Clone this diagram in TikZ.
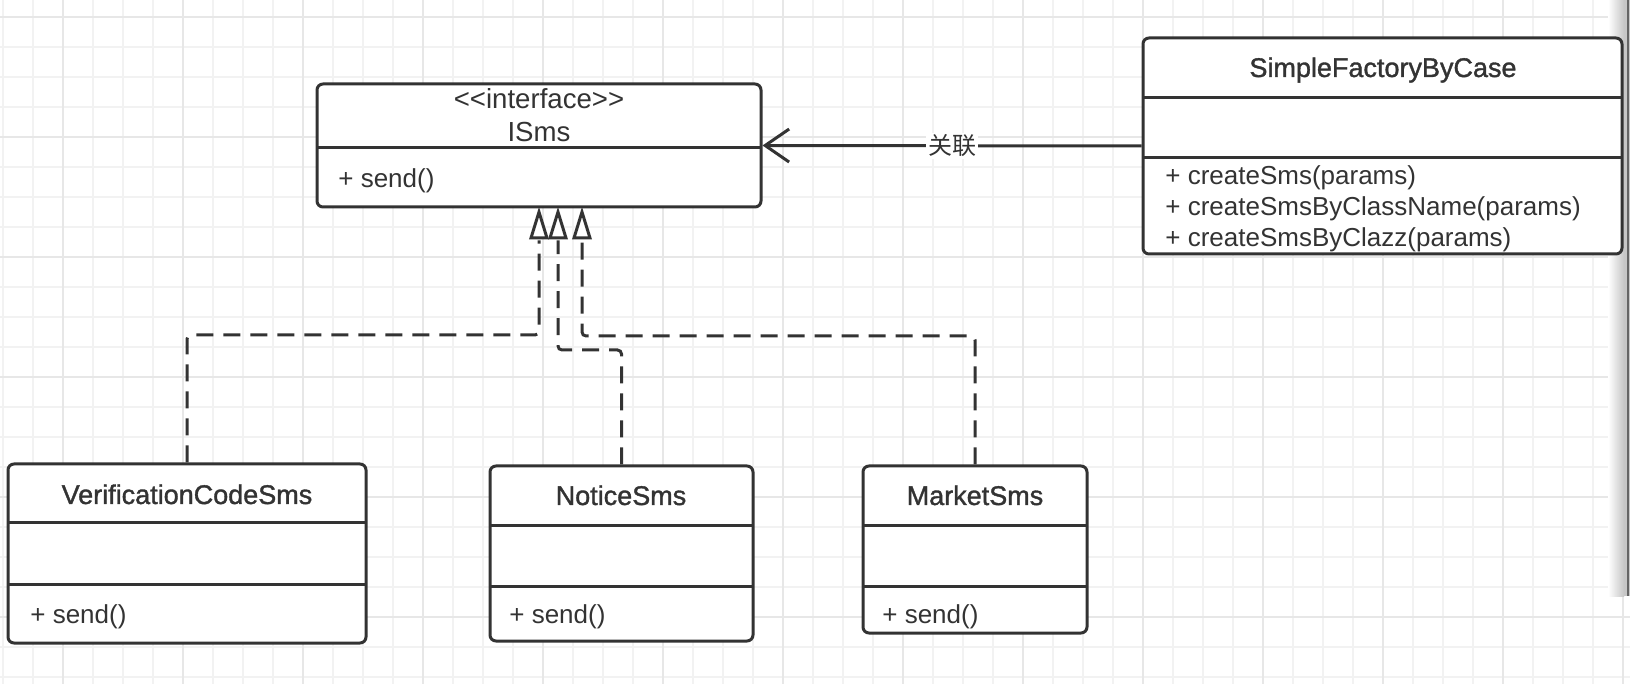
\documentclass[tikz,border=0pt]{standalone}
\usepackage{fontspec}
\setmainfont{Liberation Sans}
\newfontfamily\cjk{Noto Sans CJK SC}
\newfontfamily\titlefont[FakeBold=1.3]{Liberation Sans}
\usetikzlibrary{arrows.meta,fit}
\definecolor{ink}{HTML}{333333}
\definecolor{minorgrid}{HTML}{F2F2F2}
\definecolor{majorgrid}{HTML}{E7E7E7}
\tikzset{
  classbox/.style={draw=ink, line width=1.5pt, fill=white, rounded corners=3pt, inner sep=0pt},
  divline/.style={draw=ink, line width=1.5pt},
  txt/.style={text=ink, inner sep=0pt, font=\fontsize{13}{15}\selectfont},
  hdr/.style={text=ink, inner sep=0pt, font=\fontsize{13.8}{16}\selectfont, anchor=base},
  ttl/.style={text=ink, inner sep=0pt, font=\titlefont\fontsize{13.5}{16}\selectfont, anchor=base},
  realize/.style={draw=ink, line width=1.5pt, dash pattern=on 8.5pt off 5pt, rounded corners=2pt, shorten >=16pt},
  hollowtri/.style={draw=ink, line width=1.5pt, fill=white, line join=miter},
  assoc/.style={draw=ink, line width=1.5pt, -{Straight Barb[length=12pt, width=16.5pt]}},
  gridminor/.style={draw=minorgrid, line width=0.6pt},
  gridmajor/.style={draw=majorgrid, line width=0.8pt}
}
\begin{document}
\begin{tikzpicture}[x=0.5pt, y=-0.5pt]
\useasboundingbox (0,0) rectangle (1630,684);
\fill[white] (0,0) rectangle (1630,684);
% grid
\foreach \i in {0,...,54} \draw[gridminor] ({3+30*\i},0) -- ({3+30*\i},684);
\foreach \j in {0,...,22} \draw[gridminor] (0,{17+30*\j}) -- (1630,{17+30*\j});
\foreach \i in {0,...,13} \draw[gridmajor] ({63+120*\i},0) -- ({63+120*\i},684);
\foreach \j in {0,...,5} \draw[gridmajor] (0,{17+120*\j}) -- (1630,{17+120*\j});
% scrollbar at right edge
\shade[left color=white, right color=black!22] (1608,0) rectangle (1624,596);
\fill[black!22] (1624,0) rectangle (1630,596);
\draw[black!60, line width=1.2pt] (1628,0) -- (1628,596);

% ISms
\node[classbox, fit={(317,84) (761,207)}] (isms) {};
\draw[divline] (317,148) -- (761,148);
\node[hdr] at (539,109) {<{}<interface>{}>};
\node[hdr] at (539,142) {ISms};
\node[txt, anchor=base west] at (338,188) {+ send()};

% SimpleFactoryByCase
\node[classbox, fit={(1143,38) (1622,254)}] (sfbc) {};
\draw[divline] (1143,98) -- (1622,98);
\draw[divline] (1143,158) -- (1622,158);
\node[ttl] at (1383,77) {SimpleFactoryByCase};
\node[txt, anchor=base west] at (1165,185) {+ createSms(params)};
\node[txt, anchor=base west] at (1165,216) {+ createSmsByClassName(params)};
\node[txt, anchor=base west] at (1165,247) {+ createSmsByClazz(params)};

% VerificationCodeSms
\node[classbox, fit={(8,464) (366,643)}] (vcs) {};
\draw[divline] (8,523) -- (366,523);
\draw[divline] (8,584) -- (366,584);
\node[ttl] at (187,504) {VerificationCodeSms};
\node[txt, anchor=base west] at (30,624) {+ send()};

% NoticeSms
\node[classbox, fit={(490,466) (753,641)}] (notice) {};
\draw[divline] (490,526) -- (753,526);
\draw[divline] (490,586) -- (753,586);
\node[ttl] at (621,505) {NoticeSms};
\node[txt, anchor=base west] at (509,624) {+ send()};

% MarketSms
\node[classbox, fit={(863,466) (1087,633)}] (market) {};
\draw[divline] (863,526) -- (1087,526);
\draw[divline] (863,586) -- (1087,586);
\node[ttl] at (975,505) {MarketSms};
\node[txt, anchor=base west] at (882,624) {+ send()};

% bend points
\coordinate (b1) at (539,335);
\coordinate (b2) at (558,350);
\coordinate (b3) at (582,336);

% realizations
\draw[realize] (vcs.north) |- (b1) -- (isms.south -| b1);
\draw[realize] (notice.north) |- (b2) -- (isms.south -| b2);
\draw[realize] (market.north) |- (b3) -- (isms.south -| b3);
% hollow triangle heads
\foreach \x in {539,558,582}
  \draw[hollowtri] (\x,212) -- (\x-8,238) -- (\x+8,238) -- cycle;

% association
\draw[assoc] (sfbc.west) -- node[pos=0.5, fill=white, inner sep=1pt, text=ink, font=\cjk\fontsize{12}{14}\selectfont] {关联} (isms.east);
\end{tikzpicture}
\end{document}
